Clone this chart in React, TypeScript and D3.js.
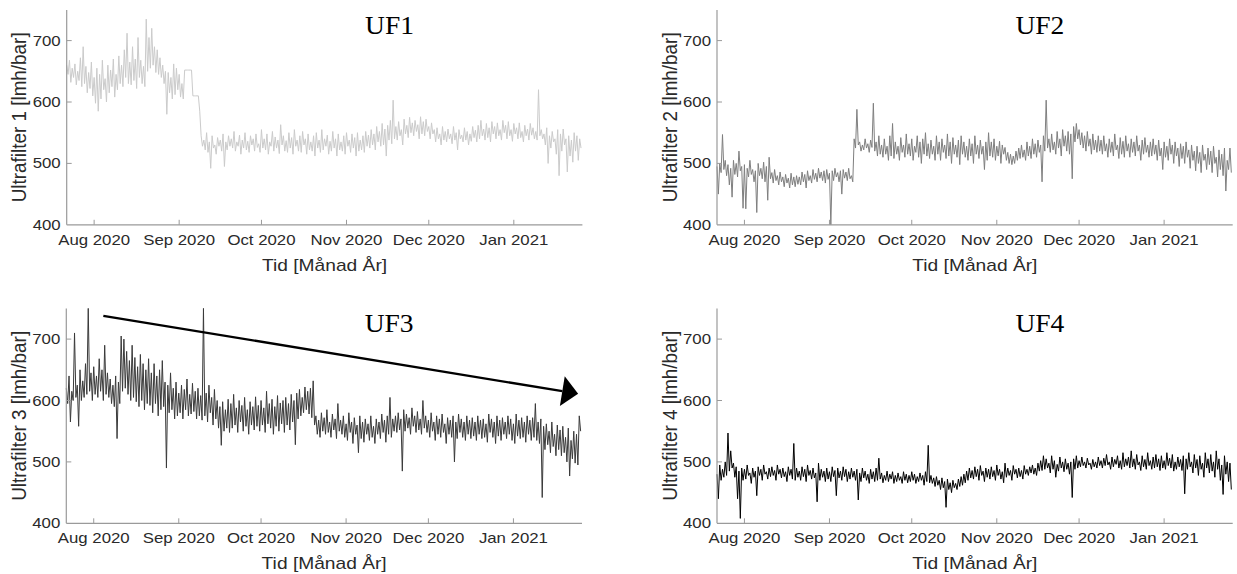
import React from 'react';
import * as d3 from 'd3';

// ---------- data ----------
const START = new Date(2020, 6, 22);
const END = new Date(2021, 0, 26);
const STEP_HOURS = 12;
const monthTicks = [
  new Date(2020, 7, 1), new Date(2020, 8, 1), new Date(2020, 9, 1),
  new Date(2020, 10, 1), new Date(2020, 11, 1), new Date(2021, 0, 1),
];
const monthLabels = ['Aug 2020', 'Sep 2020', 'Oct 2020', 'Nov 2020', 'Dec 2020', 'Jan 2021'];
const yTicks = [400, 500, 600, 700];
const yDomain = [400, 750];
const titles = ['UF1', 'UF2', 'UF3', 'UF4'];
const yLabels = ['Ultrafilter 1 [lmh/bar]', 'Ultrafilter 2 [lmh/bar]', 'Ultrafilter 3 [lmh/bar]', 'Ultrafilter 4  [lmh/bar]'];
const xLabel = 'Tid [Månad År]';

const uf1 = [
  660,645,668,632,655,640,662,628,650,635,672,625,690,630,658,615,648,622,665,610,
  640,598,655,585,645,605,668,620,638,600,660,615,652,625,670,608,645,620,675,630,
  660,625,685,640,712,630,665,628,690,635,670,622,705,640,668,630,658,625,735,650,
  705,655,720,660,690,648,685,645,672,640,660,630,650,580,648,615,640,605,662,612,
  655,620,645,608,630,605,652,652,652,652,652,652,610,610,610,610,610,585,545,528,
  538,522,550,518,535,492,545,525,530,515,542,528,538,520,548,495,535,522,545,528,
  540,525,552,520,535,528,546,515,538,525,550,522,536,518,545,530,540,520,548,526,
  532,518,555,525,540,522,548,515,535,528,552,520,543,525,538,516,563,530,545,520,
  537,518,550,525,542,515,555,528,538,520,545,518,552,530,540,515,548,522,535,520,
  545,512,550,525,538,518,555,522,540,528,546,515,536,520,552,525,540,512,548,522,
  535,520,545,515,550,528,538,518,548,525,542,512,550,520,538,522,545,518,552,528,
  546,525,555,530,548,522,560,535,552,528,565,530,556,512,562,538,570,532,603,540,
  560,538,568,545,555,530,572,548,562,542,575,550,566,545,570,552,563,540,576,548,
  568,545,572,552,560,540,566,548,555,535,558,540,548,530,560,538,552,535,556,540,
  548,532,560,538,550,522,555,540,546,535,558,538,552,530,548,536,560,542,554,535,
  562,540,570,545,556,538,565,542,558,535,568,548,560,540,566,545,555,538,570,550,
  562,540,568,545,555,536,565,548,558,540,566,542,552,535,562,545,556,538,565,546,
  558,540,552,538,620,545,555,540,548,530,558,500,545,525,552,535,540,515,555,480,
  548,520,556,530,540,486,545,512,538,502,550,520,545,505,540,525,
];

const uf2 = [
  495,450,500,485,547,490,505,480,498,465,492,445,505,482,500,478,520,488,495,427,
  498,426,492,478,505,482,490,470,488,420,500,480,492,475,502,470,495,440,510,475,
  485,468,490,472,480,465,486,470,478,462,482,468,476,460,484,465,478,462,480,466,
  478,465,486,470,482,460,488,472,480,468,490,474,484,470,492,476,486,472,488,468,
  490,474,484,400,488,472,492,478,485,470,488,450,490,476,486,472,492,475,480,470,
  540,525,588,530,535,520,530,522,540,525,532,518,538,526,598,520,535,512,545,515,
  530,510,540,515,528,505,545,512,565,508,535,515,528,505,542,518,530,510,548,515,
  532,512,540,505,528,518,545,510,535,500,540,515,550,512,532,508,538,515,528,505,
  545,515,535,505,540,518,530,508,548,512,535,500,542,515,530,510,538,498,545,515,
  535,510,528,505,540,512,532,500,545,515,530,508,538,515,528,490,535,505,550,512,
  535,510,540,505,528,512,536,500,530,515,526,505,518,500,515,498,512,500,520,505,
  525,508,530,510,522,505,535,512,528,508,540,515,532,510,538,518,530,470,545,520,
  603,525,540,518,548,522,535,515,552,525,540,512,555,528,545,520,552,515,548,475,
  560,535,565,540,555,530,550,525,545,520,552,528,540,515,548,522,538,518,545,520,
  538,515,545,520,532,510,540,518,535,512,548,522,530,508,542,515,536,510,545,520,
  532,510,540,518,535,512,545,520,530,505,538,515,542,518,530,510,535,512,540,515,
  530,505,538,512,525,490,535,510,528,505,540,515,530,500,535,512,525,495,532,508,
  528,500,535,510,522,492,530,505,520,488,528,500,518,485,530,505,515,490,525,498,
  520,485,528,500,510,478,522,490,515,480,525,455,505,490,525,485,
];

const uf3 = [
  620,595,640,565,615,600,710,605,625,558,650,600,632,605,660,610,750,615,645,600,
  655,610,640,605,668,615,650,600,690,610,645,605,635,595,625,590,640,538,630,595,
  705,615,700,620,680,610,665,600,690,605,670,598,655,590,675,600,660,585,650,595,
  668,592,645,580,660,595,640,575,650,585,665,590,630,490,625,580,645,585,620,570,
  630,575,612,580,625,570,618,585,635,575,610,578,628,582,615,570,620,575,608,568,
  750,575,612,565,625,580,605,560,618,570,600,555,590,527,598,550,585,555,602,548,
  595,555,610,560,588,548,600,565,592,550,605,558,585,545,598,560,590,552,606,558,
  592,550,600,560,588,548,615,562,595,555,602,545,590,558,608,550,596,562,600,548,
  605,560,595,552,610,565,600,528,612,570,618,575,605,580,622,585,615,578,620,572,
  632,560,575,545,568,540,580,550,572,545,585,548,565,540,578,552,570,538,595,550,
  568,545,575,540,562,535,580,548,565,530,572,545,560,515,575,538,565,532,570,545,
  562,535,575,540,558,530,570,545,565,538,578,548,568,532,575,545,605,540,570,550,
  575,548,580,552,570,485,585,550,578,555,572,545,588,558,575,548,582,552,570,545,
  600,555,575,548,568,540,580,550,565,535,575,545,570,540,578,548,562,530,572,545,
  568,540,575,500,565,538,578,548,570,540,565,535,575,545,568,538,572,542,565,535,
  575,545,568,538,570,540,562,532,578,548,570,540,565,530,575,542,568,535,572,545,
  565,538,575,545,570,535,562,530,578,542,568,538,572,540,565,532,575,545,568,535,
  572,540,595,535,565,530,570,442,558,520,562,528,550,515,565,525,545,510,560,520,
  552,510,558,515,540,500,555,477,535,505,550,498,545,495,575,550,
];

const uf4 = [
  480,440,495,470,488,475,500,478,547,485,518,490,498,475,492,440,485,408,490,470,
  488,472,495,478,482,465,490,475,485,445,492,478,488,470,495,480,484,472,490,476,
  492,478,486,470,495,480,488,474,490,476,484,468,492,478,488,472,530,470,490,475,
  485,470,492,476,488,468,495,478,486,472,490,474,482,435,498,470,488,475,485,468,
  490,472,484,468,492,476,486,445,490,474,485,470,492,476,488,468,484,472,490,475,
  485,470,488,438,482,468,490,474,485,470,480,465,488,472,484,468,490,470,506,472,
  482,466,478,470,485,468,480,472,484,465,478,468,482,470,476,465,484,470,480,466,
  478,468,484,470,480,465,476,468,482,470,478,462,484,468,527,466,478,465,474,460,
  476,462,470,455,474,458,468,426,472,455,466,450,470,458,465,455,472,460,476,462,
  480,466,485,470,490,474,486,472,492,476,488,470,494,478,485,468,490,475,488,472,
  492,476,486,470,495,478,488,472,484,466,498,475,490,478,486,470,494,480,488,474,
  490,476,486,472,494,480,488,478,492,482,495,480,490,478,498,485,502,486,510,488,
  505,490,498,482,510,488,502,475,496,485,508,490,500,484,505,488,498,480,500,442,
  505,488,510,490,502,492,508,494,500,490,506,495,498,488,504,492,500,490,508,494,
  502,490,506,494,512,495,500,488,508,492,504,496,510,490,502,488,515,492,505,494,
  508,490,518,492,505,488,512,495,500,486,510,492,504,488,515,494,502,488,508,490,
  512,492,505,486,510,490,502,488,515,494,506,490,512,485,500,488,508,492,504,486,
  510,448,505,488,515,492,500,482,512,490,504,478,510,488,498,475,515,490,505,482,
  512,485,500,475,518,488,505,470,495,447,510,480,500,468,498,455,
];

// trend arrow on UF3 (data space)
const arrowFrom = { date: new Date(2020, 7, 4, 12), value: 738 };
const arrowTo = { date: new Date(2021, 0, 24, 14), value: 611 };

// ---------- layout ----------
const W = 1237;
const H = 574;
const panels = [
  { data: uf1, color: '#cbcbcb', x0: 66.7, x1: 582.4, yTop: 9.9, yBot: 224.8 },
  { data: uf2, color: '#7f7f7f', x0: 717, x1: 1232.7, yTop: 9.9, yBot: 224.8 },
  { data: uf3, color: '#3a3a3a', x0: 66.3, x1: 582, yTop: 308.4, yBot: 523.3 },
  { data: uf4, color: '#000000', x0: 717, x1: 1232.7, yTop: 308.4, yBot: 523.3 },
];

const SANS = '"Liberation Sans", Arial, Helvetica, sans-serif';
const SERIF = '"Liberation Serif", "Times New Roman", serif';
const TXT = '#2a2a2a';
const AXIS = '#9a9a9a';
const SX = 1.2;

const STEP_MS = STEP_HOURS * 3600 * 1000;

function Panel({ idx }: { idx: number }) {
  const p = panels[idx];
  const x = d3.scaleTime().domain([START, END]).range([p.x0, p.x1]);
  const y = d3.scaleLinear().domain(yDomain).range([p.yBot, p.yTop]);
  const line = d3
    .line<number>()
    .x((_, i) => x(new Date(START.getTime() + i * STEP_MS)))
    .y((v) => y(v));
  const cx = (p.x0 + p.x1) / 2;
  const cy = (p.yTop + p.yBot) / 2;
  const titleX = p.x0 + (p.x1 - p.x0) * 0.626;

  let arrow = null;
  if (idx === 2) {
    const ax0 = x(arrowFrom.date), ay0 = y(arrowFrom.value);
    const ax1 = x(arrowTo.date), ay1 = y(arrowTo.value);
    const dx = ax1 - ax0, dy = ay1 - ay0;
    const len = Math.hypot(dx, dy);
    const ux = dx / len, uy = dy / len;
    const headL = 16, headW = 15;
    const bx = ax1 - ux * headL, by = ay1 - uy * headL;
    const pts = [
      [ax1, ay1],
      [bx - uy * headW, by + ux * headW],
      [bx + uy * headW, by - ux * headW],
    ];
    arrow = (
      <g>
        <line x1={ax0} y1={ay0} x2={bx} y2={by} stroke="#000" strokeWidth={2.3} />
        <polygon points={pts.map((q) => q.join(',')).join(' ')} fill="#000" />
      </g>
    );
  }

  return (
    <g>
      <path d={line(p.data) || ''} fill="none" stroke={p.color} strokeWidth={1} strokeLinejoin="round" />
      {/* axes */}
      <line x1={p.x0} y1={p.yTop} x2={p.x0} y2={p.yBot} stroke={AXIS} strokeWidth={1.2} />
      <line x1={p.x0} y1={p.yBot} x2={p.x1} y2={p.yBot} stroke={AXIS} strokeWidth={1.2} />
      {monthTicks.map((t, i) => (
        <g key={'xt' + i}>
          <line x1={x(t)} x2={x(t)} y1={p.yBot} y2={p.yBot - 5} stroke={AXIS} strokeWidth={1} />
          <text
            transform={`translate(${x(t)},${p.yBot + 20}) scale(${SX},1)`}
            textAnchor="middle"
            fontFamily={SANS}
            fontSize={14}
            fill={TXT}
          >
            {monthLabels[i]}
          </text>
        </g>
      ))}
      {yTicks.map((v) => (
        <g key={'yt' + v}>
          {v !== yDomain[0] && (
            <line x1={p.x0} x2={p.x0 + 5} y1={y(v)} y2={y(v)} stroke={AXIS} strokeWidth={1} />
          )}
          <text
            transform={`translate(${p.x0 - 6},${y(v) + 5}) scale(${SX},1)`}
            textAnchor="end"
            fontFamily={SANS}
            fontSize={14}
            fill={TXT}
          >
            {v}
          </text>
        </g>
      ))}
      <text
        transform={`translate(${cx},${p.yBot + 46}) scale(${SX},1)`}
        textAnchor="middle"
        fontFamily={SANS}
        fontSize={16}
        fill={TXT}
      >
        {xLabel}
      </text>
      <text
        transform={`translate(${p.x0 - 40.5},${cy}) scale(${SX},1) rotate(-90)`}
        textAnchor="middle"
        fontFamily={SANS}
        fontSize={16.5}
        fill={TXT}
        textLength={170}
        lengthAdjust="spacingAndGlyphs"
      >
        {yLabels[idx]}
      </text>
      <text
        transform={`translate(${titleX},${p.yTop + 24}) scale(1.1,1)`}
        textAnchor="middle"
        fontFamily={SERIF}
        fontSize={25}
        fill="#000"
      >
        {titles[idx]}
      </text>
      {arrow}
    </g>
  );
}

export default function App() {
  return (
    <svg
      width={W}
      height={H}
      viewBox={`0 0 ${W} ${H}`}
      style={{ position: 'absolute', left: 0, top: 0, background: '#fff' }}
    >
      <rect x={0} y={0} width={W} height={H} fill="#fff" />
      {panels.map((_, i) => (
        <Panel key={i} idx={i} />
      ))}
    </svg>
  );
}
